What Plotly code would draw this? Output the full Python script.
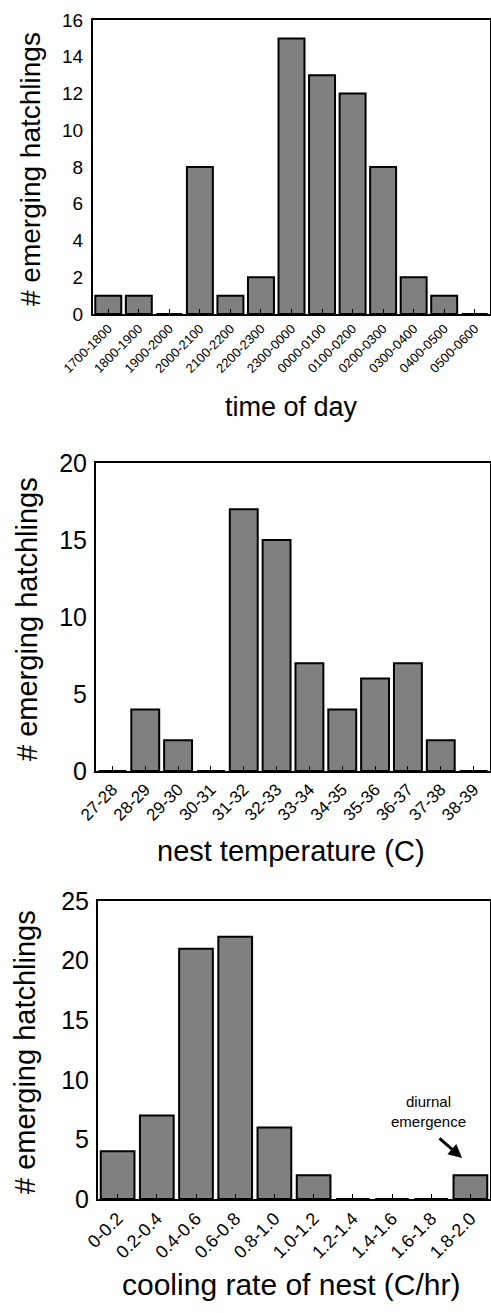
import plotly.graph_objects as go

# Emergence counts by time of day
time_labels = ["1700-1800", "1800-1900", "1900-2000", "2000-2100", "2100-2200",
               "2200-2300", "2300-0000", "0000-0100", "0100-0200", "0200-0300",
               "0300-0400", "0400-0500", "0500-0600"]
time_counts = [1, 1, 0, 8, 1, 2, 15, 13, 12, 8, 2, 1, 0]

# Emergence counts by nest temperature (C)
temp_labels = ["27-28", "28-29", "29-30", "30-31", "31-32", "32-33",
               "33-34", "34-35", "35-36", "36-37", "37-38", "38-39"]
temp_counts = [0, 4, 2, 0, 17, 15, 7, 4, 6, 7, 2, 0]

# Emergence counts by nest cooling rate (C/hr)
cool_labels = ["0-0.2", "0.2-0.4", "0.4-0.6", "0.6-0.8", "0.8-1.0",
               "1.0-1.2", "1.2-1.4", "1.4-1.6", "1.6-1.8", "1.8-2.0"]
cool_counts = [4, 7, 21, 22, 6, 2, 0, 0, 0, 2]

W, H = 491, 1313
FONT = "Liberation Sans, Arial, Helvetica, sans-serif"


def px_x(v):
    return v / W


def px_y(v):
    return 1 - v / H


fig = go.Figure()

panels = [
    dict(labels=time_labels, counts=time_counts, xdom=(93, 490), ydom=(20, 314),
         yr=16, dtick=2, yfont=19, xfont=13, width=0.85, ystand=4,
         title="time of day", title_y=407, title_size=27,
         ytitle_x=30, ytitle_size=28),
    dict(labels=temp_labels, counts=temp_counts, xdom=(96, 490), ydom=(463, 771),
         yr=20, dtick=5, yfont=25, xfont=17, width=0.85, ystand=2,
         title="nest temperature (C)", title_y=851, title_size=29,
         ytitle_x=27, ytitle_size=29),
    dict(labels=cool_labels, counts=cool_counts, xdom=(98, 490), ydom=(901, 1199),
         yr=25, dtick=5, yfont=25, xfont=18, width=0.86, ystand=2,
         title="cooling rate of nest (C/hr)", title_y=1284, title_size=30,
         ytitle_x=25, ytitle_size=29),
]

annotations = []
for i, p in enumerate(panels, start=1):
    sfx = "" if i == 1 else str(i)
    fig.add_trace(go.Bar(
        x=p["labels"], y=p["counts"], width=p["width"],
        marker=dict(color="#808080", line=dict(color="black", width=2)),
        xaxis="x" + sfx, yaxis="y" + sfx, showlegend=False,
    ))
    fig.layout["xaxis" + sfx] = dict(
        domain=[px_x(p["xdom"][0]), px_x(p["xdom"][1])],
        anchor="y" + sfx, type="category", automargin=False,
        range=[-0.5, len(p["labels"]) - 0.5],
        showline=True, linecolor="black", linewidth=2, mirror=True,
        ticks="inside", ticklen=5, tickwidth=1, tickcolor="black",
        tickangle=-45, tickfont=dict(family=FONT, size=p["xfont"], color="black"),
        showgrid=False, zeroline=False, fixedrange=True,
    )
    fig.layout["yaxis" + sfx] = dict(
        domain=[px_y(p["ydom"][1]), px_y(p["ydom"][0])],
        anchor="x" + sfx, range=[0, p["yr"]], dtick=p["dtick"], automargin=False,
        showline=True, linecolor="black", linewidth=2, mirror=True,
        ticks="", ticklabelstandoff=p["ystand"],
        tickfont=dict(family=FONT, size=p["yfont"], color="black"),
        showgrid=False, zeroline=False, fixedrange=True,
    )
    # x-axis title
    annotations.append(dict(
        text=p["title"], xref="paper", yref="paper",
        x=px_x(291), y=px_y(p["title_y"]), showarrow=False,
        xanchor="center", yanchor="middle",
        font=dict(family=FONT, size=p["title_size"], color="black"),
    ))
    # y-axis title
    annotations.append(dict(
        text="# emerging hatchlings", xref="paper", yref="paper",
        x=px_x(p["ytitle_x"]), y=px_y((p["ydom"][0] + p["ydom"][1]) / 2 + 2),
        showarrow=False, textangle=-90, xanchor="center", yanchor="middle",
        font=dict(family=FONT, size=p["ytitle_size"], color="black"),
    ))

# callout for the daytime emergence bar
annotations.append(dict(
    text="diurnal<br>emergence", xref="paper", yref="paper",
    x=px_x(428), y=px_y(1111), showarrow=False,
    xanchor="center", yanchor="middle",
    font=dict(family=FONT, size=15, color="black"),
))
annotations.append(dict(
    text="", xref="paper", yref="paper",
    x=px_x(462), y=px_y(1158), ax=-24, ay=-21,
    showarrow=True, arrowhead=2, arrowsize=0.9, arrowwidth=3, arrowcolor="black",
))

fig.update_layout(
    width=W, height=H, margin=dict(l=0, r=0, t=0, b=0),
    paper_bgcolor="white", plot_bgcolor="white",
    annotations=annotations, bargap=0.15,
)

fig.write_html("out.html")
